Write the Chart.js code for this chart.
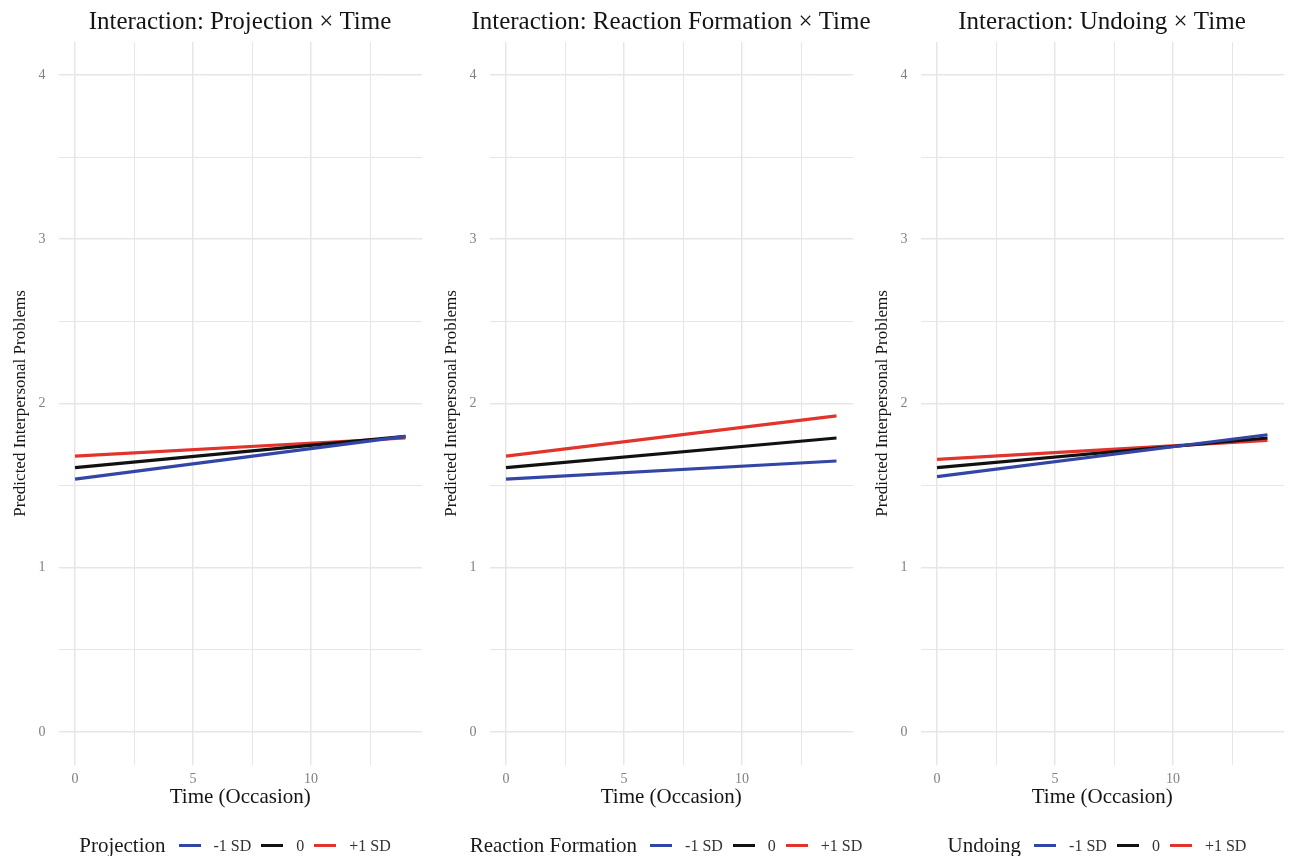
<!DOCTYPE html>
<html>
<head>
<meta charset="utf-8">
<script src="https://cdn.jsdelivr.net/npm/chart.js@4.4.1/dist/chart.umd.min.js"></script>
<style>
  html, body { margin: 0; padding: 0; background: #fff; overflow: hidden; }
  #wrap { position: relative; width: 1293px; height: 856px; overflow: hidden; }
  .panel { position: absolute; top: 0; width: 480px; height: 856px; }
  .legend {
    position: absolute; top: 833px; width: 470px; text-align: center;
    font-family: "Liberation Serif", "DejaVu Serif", serif; color: #1a1a1a; white-space: nowrap;
  }
  .legend .ttl { font-size: 21px; margin-right: 3px; vertical-align: middle; }
  .legend .sw { display: inline-block; width: 22px; height: 3px; vertical-align: middle; margin: 0 13px 0 10px; }
  .legend .lab { font-size: 16px; vertical-align: middle; color: #333; }
</style>
</head>
<body>
<div id="wrap"></div>
<script>
// shared axis values
const timePoints = [0, 14];
const xGridValues = [0, 2.5, 5, 7.5, 10, 12.5];
const xTickLabels = [0, 5, 10];
const yGridValues = [0, 0.5, 1, 1.5, 2, 2.5, 3, 3.5, 4];
const yTickLabels = [0, 1, 2, 3, 4];

const seriesLabels = ['-1 SD', '0', '+1 SD'];
const seriesColors = ['#3346a6', '#111111', '#e2342c'];

// moderators (panel titles / legend titles)
const moderators = ['Projection', 'Reaction Formation', 'Undoing'];

// predicted values at Time 0 and Time 14, one array per level
const projectionLow = [1.54, 1.80];
const projectionMid = [1.61, 1.80];
const projectionHigh = [1.68, 1.79];

const reactionLow = [1.54, 1.65];
const reactionMid = [1.61, 1.79];
const reactionHigh = [1.68, 1.925];

const undoingLow = [1.555, 1.81];
const undoingMid = [1.61, 1.79];
const undoingHigh = [1.66, 1.775];

const panelSeries = [
  [projectionLow, projectionMid, projectionHigh],
  [reactionLow, reactionMid, reactionHigh],
  [undoingLow, undoingMid, undoingHigh]
];

const serif = "'Liberation Serif', 'DejaVu Serif', serif";
const wrap = document.getElementById('wrap');

const makePanel = (idx) => {
  const left = idx * 431;
  const canvas = document.createElement('canvas');
  canvas.className = 'panel';
  canvas.style.left = left + 'px';
  canvas.width = 480;
  canvas.height = 856;
  wrap.appendChild(canvas);

  const datasets = panelSeries[idx].map((vals, i) => ({
    label: seriesLabels[i],
    data: timePoints.map((t, k) => ({ x: t, y: vals[k] })),
    borderColor: seriesColors[i],
    backgroundColor: seriesColors[i],
    borderWidth: 3.2,
    pointRadius: 0,
    showLine: true,
    fill: false
  }));

  new Chart(canvas.getContext('2d'), {
    type: 'scatter',
    data: { datasets },
    options: {
      responsive: false,
      animation: false,
      layout: { padding: { left: 0, right: 0, top: 0, bottom: 46 } },
      plugins: {
        legend: { display: false },
        tooltip: { enabled: false },
        title: {
          display: true,
          text: 'Interaction: ' + moderators[idx] + ' \u00d7 Time',
          color: '#141414',
          font: { family: serif, size: 25, weight: 'normal' },
          padding: { top: 7, bottom: 5 }
        }
      },
      scales: {
        x: {
          type: 'linear',
          min: -0.7,
          max: 14.7,
          afterBuildTicks: (scale) => { scale.ticks = xGridValues.map((v) => ({ value: v })); },
          afterFit: (scale) => { scale.height = 45; },
          ticks: {
            autoSkip: false,
            maxRotation: 0,
            padding: 6,
            color: '#808080',
            font: { family: serif, size: 14 },
            callback: (v) => (xTickLabels.includes(v) ? String(v) : '')
          },
          grid: {
            drawTicks: false,
            color: '#e9e5e5',
            lineWidth: (ctx) => (ctx.tick && xTickLabels.includes(ctx.tick.value) ? 1.5 : 1)
          },
          border: { display: false },
          title: {
            display: true,
            text: 'Time (Occasion)',
            color: '#141414',
            font: { family: serif, size: 21 },
            padding: { top: 0, bottom: 0 }
          }
        },
        y: {
          type: 'linear',
          min: -0.2,
          max: 4.2,
          afterBuildTicks: (scale) => { scale.ticks = yGridValues.map((v) => ({ value: v })); },
          afterFit: (scale) => { scale.width = 58.5; },
          ticks: {
            autoSkip: false,
            padding: 13,
            color: '#808080',
            font: { family: serif, size: 14 },
            callback: (v) => (yTickLabels.includes(v) ? String(v) : '')
          },
          grid: {
            drawTicks: false,
            color: '#e9e5e5',
            lineWidth: (ctx) => (ctx.tick && yTickLabels.includes(ctx.tick.value) ? 1.5 : 1)
          },
          border: { display: false },
          title: {
            display: true,
            text: 'Predicted Interpersonal Problems',
            color: '#141414',
            font: { family: serif, size: 17 },
            padding: { top: 10, bottom: 0 }
          }
        },
        // empty right-hand spacer so the title centres over the plot area
        spacer: {
          type: 'linear',
          position: 'right',
          afterFit: (scale) => { scale.width = 58; },
          ticks: { display: false },
          grid: { display: false },
          border: { display: false }
        }
      }
    }
  });

  // legend below the panel, built from the series arrays
  const leg = document.createElement('div');
  leg.className = 'legend';
  leg.style.left = left + 'px';
  const ttl = document.createElement('span');
  ttl.className = 'ttl';
  ttl.textContent = moderators[idx];
  leg.appendChild(ttl);
  seriesLabels.forEach((lab, i) => {
    const sw = document.createElement('span');
    sw.className = 'sw';
    sw.style.background = seriesColors[i];
    leg.appendChild(sw);
    const t = document.createElement('span');
    t.className = 'lab';
    t.textContent = lab;
    leg.appendChild(t);
  });
  wrap.appendChild(leg);
};

moderators.forEach((m, i) => makePanel(i));
</script>
</body>
</html>
